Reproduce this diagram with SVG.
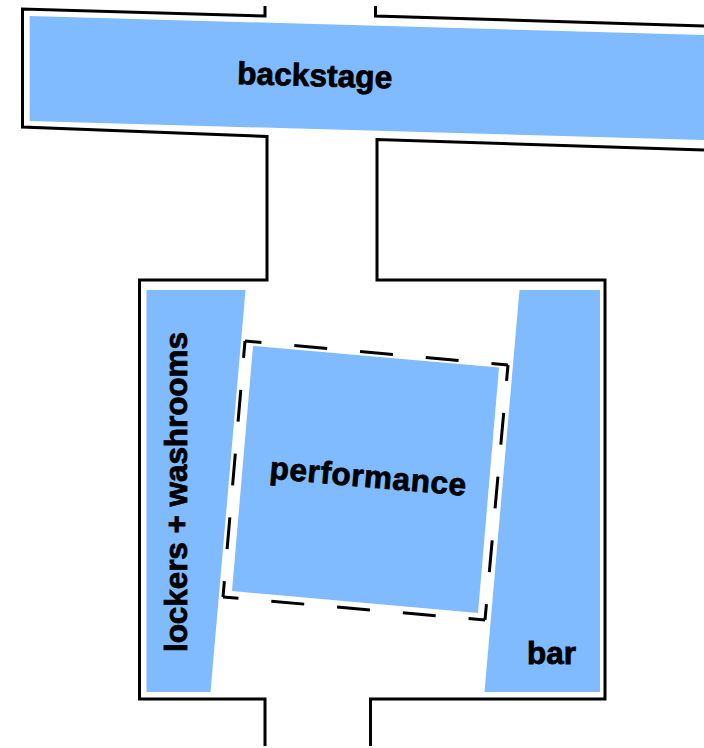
<svg xmlns="http://www.w3.org/2000/svg" width="704" height="748" viewBox="0 0 704 748">
<style>
.wall{fill:none;stroke:#000;stroke-width:3;stroke-linejoin:miter}
.area{fill:#80BAFF}
.dash{fill:none;stroke:#000;stroke-width:3;stroke-linecap:butt}
text{font-family:"Liberation Sans",Arial,sans-serif;font-weight:700;font-size:31.500px;fill:#000;stroke:#000;stroke-width:0.800px}
</style>
<rect width="704" height="748" fill="#fff"/>
<g id="walls">
<path class="wall" d="M265 6V16L22.500 9V127L267 136.500V280H139.500V699H265V746"/>
<path class="wall" d="M375.500 6V16L704 26"/>
<path class="wall" d="M704 150L377 139.500V280H605V699H370.500V746"/>
</g>
<g id="backstage">
<polygon class="area" points="29.700,16 704,35 704,140 29.700,121"/>
<text x="237" y="84" transform="rotate(1.6 237 84)" textLength="155">backstage</text>
</g>
<g id="lockers">
<polygon class="area" points="146.500,290 245.500,290 210.500,692 146.500,692"/>
<text x="187" y="652" transform="rotate(-90 187 652)" textLength="320">lockers + washrooms</text>
</g>
<g id="bar">
<polygon class="area" points="519.500,290 600,290 600,692 484.500,692"/>
<text x="527" y="664" textLength="49">bar</text>
</g>
<g id="performance">
<polygon class="area" points="253,346 499,367.500 478,613 232,591"/>
<text x="269" y="478.500" transform="rotate(5 269 478.500)" textLength="197">performance</text>
</g>
<g id="connectors">
<line class="dash" x1="245" y1="341" x2="508" y2="365" stroke-dasharray="33 33" stroke-dashoffset="16.500"/>
<line class="dash" x1="508" y1="365" x2="485" y2="620" stroke-dasharray="32 32" stroke-dashoffset="16"/>
<line class="dash" x1="485" y1="620" x2="223" y2="597" stroke-dasharray="33 33" stroke-dashoffset="16.500"/>
<line class="dash" x1="223" y1="597" x2="245" y2="341" stroke-dasharray="32 32" stroke-dashoffset="16"/>
</g>
</svg>
